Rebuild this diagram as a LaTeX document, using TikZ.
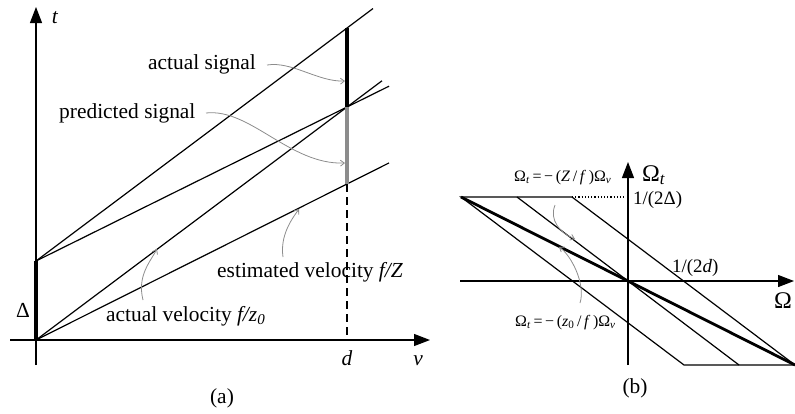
\documentclass[tikz,border=0pt]{standalone}
\usepackage{fontspec}
\setmainfont{Liberation Serif}
\usetikzlibrary{arrows.meta,calc}
\begin{document}
\begin{tikzpicture}[x=1bp,y=-1bp,
  axisline/.style={line width=1.2bp,-{Triangle[length=16bp,width=12bp]}},
  plain/.style={line width=1.2bp},
  heavy/.style={line width=4bp},
  ann/.style={draw=black!45, line width=0.8bp, -{Straight Barb[length=4bp,width=6bp]}},
  big/.style={font=\fontsize{21.5}{24}\selectfont, inner sep=0pt},
  small/.style={font=\fontsize{16}{18}\selectfont, inner sep=0pt},
  mid/.style={font=\fontsize{19}{21}\selectfont, inner sep=0pt},
  huge/.style={font=\fontsize{24}{26}\selectfont, inner sep=0pt}]
\useasboundingbox (0,0) rectangle (795,413);

% ---------- panel (a) ----------
\coordinate (O) at (36,340);
\coordinate (D) at (36,261);
\coordinate (tTop) at (36,7);
\coordinate (tBot) at (36,365);
\coordinate (vL) at (10,340);
\coordinate (vR) at (430,340);
\coordinate (P1) at (347,28);
\coordinate (P2) at (347,107);
\coordinate (P3) at (347,184);
\coordinate (P0) at (347,340);

\draw[axisline] (tBot) -- (tTop);
\draw[axisline] (vL) -- (vR);

\draw[plain] (D) -- ($(D)!1.0836!(P1)$);
\draw[plain] (D) -- ($(D)!1.135!(P2)$);
\draw[plain] (O) -- ($(O)!1.1125!(P2)$);
\draw[plain] (O) -- ($(O)!1.135!(P3)$);

\draw[heavy] (O) -- (D);
\draw[heavy] (P1) -- (P2);
\draw[heavy, draw=black!45] (P2) -- (P3);
\draw[line width=1.1bp, dash pattern=on 8bp off 5bp] (P3) -- (P0);

\node[big, anchor=base west] (as) at (148,69) {actual signal};
\node[big, anchor=base west] (ps) at (59,118) {predicted signal};
\node[big, anchor=base west] (av) at (106,321) {actual velocity \textit{f/z}\textsubscript{\textit{0}}};
\node[big, anchor=base west] (ev) at (217,277) {estimated velocity \textit{f/Z}};
\node[big, anchor=base] (dl) at (23,317) {Δ};
\node[big, anchor=base] (tl) at (55,23) {\textit{t}};
\node[big, anchor=base] (dlab) at (347,365) {\textit{d}};
\node[big, anchor=base] (vl) at (418,365) {\textit{v}};
\node[big, anchor=base] (alab) at (222,403) {(a)};

\coordinate (a1s) at (267,65);
\coordinate (a1e) at (345,81);
\coordinate (a2s) at (206,113);
\coordinate (a2e) at (345,163);
\coordinate (a3s) at (143,300);
\coordinate (a3e) at (157,249);
\coordinate (a4s) at (283,257);
\coordinate (a4e) at (299,209);
\draw[ann] (a1s) .. controls (292,61) and (318,82) .. (a1e);
\draw[ann] (a2s) .. controls (250,108) and (290,165) .. (a2e);
\draw[ann] (a3s) .. controls (137,276) and (150,262) .. (a3e);
\draw[ann] (a4s) .. controls (280,236) and (291,220) .. (a4e);

% ---------- panel (b) ----------
\coordinate (Ob) at (628,281);
\coordinate (hL) at (460,281);
\coordinate (hR) at (794,281);
\coordinate (vB) at (628,365);
\coordinate (vT) at (628,162);
\coordinate (TL) at (461,197);
\coordinate (TR) at (572,197);
\coordinate (TD) at (625,197);
\coordinate (BR) at (795,365);
\coordinate (BL) at (684,365);
\coordinate (MT) at (517,197);
\coordinate (MB) at (739,365);

\draw[axisline] (hL) -- (hR);
\draw[axisline] (vB) -- (vT);
\draw[plain] (TL) -- (TR) -- (BR) -- (BL) -- cycle;
\draw[plain] (MT) -- (MB);
\draw[line width=2.8bp] (TL) -- (BR);
\draw[line width=1.2bp, dash pattern=on 1.2bp off 2bp] (TR) -- (TD);

\node[small, anchor=base west] (l1) at (514,181) {Ω\textsubscript{\textit{t}}\,=\,−\,(\textit{Z}\,/\,\textit{f}\,)Ω\textsubscript{\textit{v}}};
\node[small, anchor=base west] (l2) at (515,326) {Ω\textsubscript{\textit{t}}\,=\,−\,(\textit{z}\textsubscript{0}\,/\,\textit{f}\,)Ω\textsubscript{\textit{v}}};
\node[mid, anchor=base west] (dd) at (633,204) {1/(2Δ)};
\node[mid, anchor=base west] (d2) at (672,272) {1/(2\textit{d})};
\node[huge, anchor=base west] (Wt) at (642,181) {Ω\textsubscript{\textit{t}}};
\node[huge, anchor=base] (W) at (783,308) {Ω};
\node[big, anchor=base] (blab) at (635,393) {(b)};

\coordinate (b1s) at (555,205);
\coordinate (b1e) at (575,239);
\coordinate (b2s) at (580,303);
\coordinate (b2e) at (559,247);
\draw[ann] (b1s) .. controls (549,220) and (560,233) .. (b1e);
\draw[ann] (b2s) .. controls (586,284) and (571,255) .. (b2e);
\end{tikzpicture}
\end{document}
